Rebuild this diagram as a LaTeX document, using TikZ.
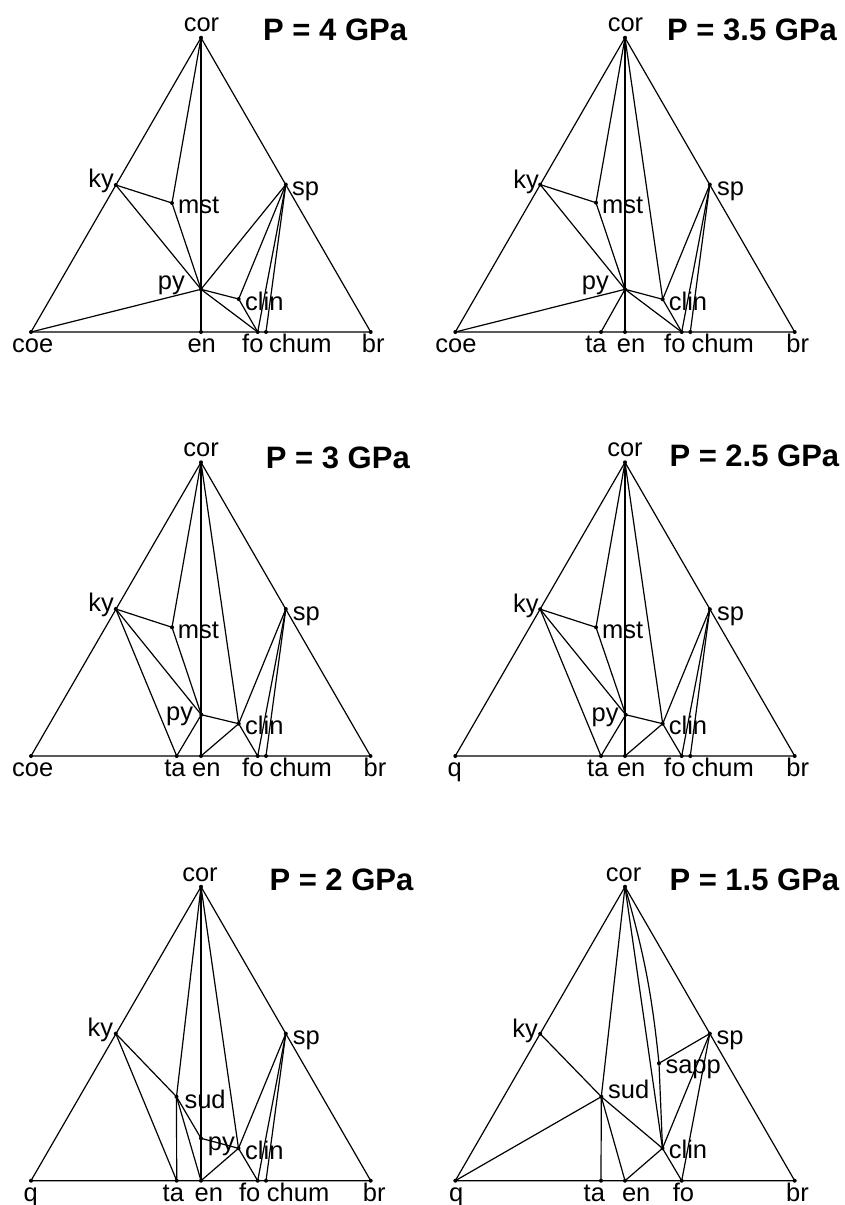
\documentclass[tikz,border=0pt]{standalone}
\usepackage{fontspec}
\setmainfont{Liberation Sans}
\begin{document}
\begin{tikzpicture}[x=1pt,y=-1pt,
  lab/.style={font=\fontsize{25.5}{30}\selectfont, inner sep=0pt},
  ttl/.style={font=\fontsize{31}{36}\selectfont\bfseries, inner sep=0pt, anchor=base west},
  ln/.style={line width=1.2pt, line join=round, line cap=round},
  pt/.style={fill=black}]
\useasboundingbox (0,0) rectangle (845,1205);
\fill[white] (0,0) rectangle (845,1205);
% ================= Panel A : P = 4 GPa
\coordinate (Acor) at (201,37.7);
\coordinate (Acoe) at (31,332);
\coordinate (Abr) at (370.7,332);
\coordinate (Aen) at (201,332);
\coordinate (Afo) at (257.7,332);
\coordinate (Achum) at (266,332);
\coordinate (Aky) at (115.8,185);
\coordinate (Amst) at (172,203);
\coordinate (Asp) at (285.8,184.6);
\coordinate (Apy) at (201,289.3);
\coordinate (Aclin) at (238.7,299);
\draw[ln] (Acoe) -- (Acor) -- (Abr) -- cycle;
\draw[ln] (Acor) -- (Aen);
\draw[ln] (Acor) -- (Amst);
\draw[ln] (Aky) -- (Amst);
\draw[ln] (Amst) -- (Apy);
\draw[ln] (Aky) -- (Apy);
\draw[ln] (Acoe) -- (Apy);
\draw[ln] (Apy) -- (Asp);
\draw[ln] (Apy) -- (Aclin);
\draw[ln] (Apy) -- (Afo);
\draw[ln] (Aclin) -- (Afo);
\draw[ln] (Aclin) -- (Asp);
\draw[ln] (Asp) -- (Afo);
\draw[ln] (Asp) -- (Achum);
\foreach \p in {cor,coe,br,en,fo,chum,ky,mst,sp,py,clin} \fill[pt] (A\p) circle (2);
\node[lab,anchor=base] (Acor-l) at (201.5,31.7) {cor};
\node[lab,anchor=base east] (Aky-l) at (114,187) {ky};
\node[lab,anchor=base west] (Amst-l) at (178,213) {mst};
\node[lab,anchor=base west] (Asp-l) at (292,195.5) {sp};
\node[lab,anchor=base east] (Apy-l) at (185,289) {py};
\node[lab,anchor=base west] (Aclin-l) at (245,310) {clin};
\node[lab,anchor=base] (Acoe-l) at (32.7,352) {coe};
\node[lab,anchor=base] (Aen-l) at (201.7,352) {en};
\node[lab,anchor=base] (Afo-l) at (252.8,352) {fo};
\node[lab,anchor=base west] (Achum-l) at (269,352) {chum};
\node[lab,anchor=base] (Abr-l) at (373.3,352) {br};
\node[ttl] (At) at (263,40.7) {P = 4 GPa};
% ================= Panel B : P = 3.5 GPa
\coordinate (Bcor) at (625,37.7);
\coordinate (Bcoe) at (455.3,332);
\coordinate (Bbr) at (794.7,332);
\coordinate (Bta) at (601,332);
\coordinate (Ben) at (625,332);
\coordinate (Bfo) at (681.7,332);
\coordinate (Bchum) at (690.3,332);
\coordinate (Bky) at (540.2,184.6);
\coordinate (Bmst) at (596,202.7);
\coordinate (Bsp) at (709.8,184.6);
\coordinate (Bpy) at (625,289.3);
\coordinate (Bclin) at (662.7,299.3);
\draw[ln] (Bcoe) -- (Bcor) -- (Bbr) -- cycle;
\draw[ln] (Bcor) -- (Ben);
\draw[ln] (Bcor) -- (Bmst);
\draw[ln] (Bky) -- (Bmst);
\draw[ln] (Bmst) -- (Bpy);
\draw[ln] (Bky) -- (Bpy);
\draw[ln] (Bcoe) -- (Bpy);
\draw[ln] (Bpy) -- (Bta);
\draw[ln] (Bpy) -- (Bclin);
\draw[ln] (Bpy) -- (Bfo);
\draw[ln] (Bcor) -- (Bclin);
\draw[ln] (Bclin) -- (Bfo);
\draw[ln] (Bsp) -- (Bclin);
\draw[ln] (Bsp) -- (Bfo);
\draw[ln] (Bsp) -- (Bchum);
\foreach \p in {cor,coe,br,ta,en,fo,chum,ky,mst,sp,py,clin} \fill[pt] (B\p) circle (2);
\node[lab,anchor=base] (Bcor-l) at (625.5,31.7) {cor};
\node[lab,anchor=base east] (Bky-l) at (539,188) {ky};
\node[lab,anchor=base west] (Bmst-l) at (602,213) {mst};
\node[lab,anchor=base west] (Bsp-l) at (717,195.5) {sp};
\node[lab,anchor=base east] (Bpy-l) at (609,289) {py};
\node[lab,anchor=base west] (Bclin-l) at (668.7,310) {clin};
\node[lab,anchor=base] (Bcoe-l) at (456,352) {coe};
\node[lab,anchor=base] (Bta-l) at (596,352) {ta};
\node[lab,anchor=base] (Ben-l) at (631,352) {en};
\node[lab,anchor=base] (Bfo-l) at (674.8,352) {fo};
\node[lab,anchor=base west] (Bchum-l) at (691.3,352) {chum};
\node[lab,anchor=base] (Bbr-l) at (797.8,352) {br};
\node[ttl] (Bt) at (667,40.7) {P = 3.5 GPa};
% ================= Panel C : P = 3 GPa
\coordinate (Ccor) at (201,462.3);
\coordinate (Ccoe) at (31,756);
\coordinate (Cbr) at (370.5,756);
\coordinate (Cta) at (176.7,756);
\coordinate (Cen) at (201,756);
\coordinate (Cfo) at (257.7,756);
\coordinate (Cchum) at (266,756);
\coordinate (Cky) at (115.8,609);
\coordinate (Cmst) at (172,627.3);
\coordinate (Csp) at (285.8,609);
\coordinate (Cpy) at (201.3,714.7);
\coordinate (Cclin) at (238.7,723.7);
\draw[ln] (Ccoe) -- (Ccor) -- (Cbr) -- cycle;
\draw[ln] (Ccor) -- (Cen);
\draw[ln] (Ccor) -- (Cmst);
\draw[ln] (Cky) -- (Cmst);
\draw[ln] (Cmst) -- (Cpy);
\draw[ln] (Cky) -- (Cpy);
\draw[ln] (Cky) -- (Cta);
\draw[ln] (Cta) -- (Cpy);
\draw[ln] (Cpy) -- (Cclin);
\draw[ln] (Ccor) -- (Cclin);
\draw[ln] (Cen) -- (Cclin);
\draw[ln] (Cclin) -- (Cfo);
\draw[ln] (Csp) -- (Cclin);
\draw[ln] (Csp) -- (Cfo);
\draw[ln] (Csp) -- (Cchum);
\foreach \p in {cor,coe,br,ta,en,fo,chum,ky,mst,sp,py,clin} \fill[pt] (C\p) circle (2);
\node[lab,anchor=base] (Ccor-l) at (201.2,456) {cor};
\node[lab,anchor=base east] (Cky-l) at (114,611.5) {ky};
\node[lab,anchor=base west] (Cmst-l) at (177.7,638) {mst};
\node[lab,anchor=base west] (Csp-l) at (292.7,620) {sp};
\node[lab,anchor=base east] (Cpy-l) at (193.3,720) {py};
\node[lab,anchor=base west] (Cclin-l) at (245,734) {clin};
\node[lab,anchor=base] (Ccoe-l) at (32.7,776) {coe};
\node[lab,anchor=base] (Cta-l) at (175,776) {ta};
\node[lab,anchor=base] (Cen-l) at (206.3,776) {en};
\node[lab,anchor=base] (Cfo-l) at (252.8,776) {fo};
\node[lab,anchor=base west] (Cchum-l) at (269.3,776) {chum};
\node[lab,anchor=base] (Cbr-l) at (375,776) {br};
\node[ttl] (Ct) at (265.7,468.3) {P = 3 GPa};
% ================= Panel D : P = 2.5 GPa
\coordinate (Dcor) at (625,462.3);
\coordinate (Dq) at (455.3,756);
\coordinate (Dbr) at (794.7,756);
\coordinate (Dta) at (601,756);
\coordinate (Den) at (625,756);
\coordinate (Dfo) at (681.7,756);
\coordinate (Dchum) at (690.3,756);
\coordinate (Dky) at (540.2,609.2);
\coordinate (Dmst) at (596,627.3);
\coordinate (Dsp) at (709.8,609.2);
\coordinate (Dpy) at (625.7,714.7);
\coordinate (Dclin) at (662.7,723.7);
\draw[ln] (Dq) -- (Dcor) -- (Dbr) -- cycle;
\draw[ln] (Dcor) -- (Den);
\draw[ln] (Dcor) -- (Dmst);
\draw[ln] (Dky) -- (Dmst);
\draw[ln] (Dmst) -- (Dpy);
\draw[ln] (Dky) -- (Dpy);
\draw[ln] (Dky) -- (Dta);
\draw[ln] (Dta) -- (Dpy);
\draw[ln] (Dpy) -- (Dclin);
\draw[ln] (Dcor) -- (Dclin);
\draw[ln] (Den) -- (Dclin);
\draw[ln] (Dclin) -- (Dfo);
\draw[ln] (Dsp) -- (Dclin);
\draw[ln] (Dsp) -- (Dfo);
\draw[ln] (Dsp) -- (Dchum);
\foreach \p in {cor,q,br,ta,en,fo,chum,ky,mst,sp,py,clin} \fill[pt] (D\p) circle (2);
\node[lab,anchor=base] (Dcor-l) at (625,456) {cor};
\node[lab,anchor=base east] (Dky-l) at (538.7,612) {ky};
\node[lab,anchor=base west] (Dmst-l) at (602,638) {mst};
\node[lab,anchor=base west] (Dsp-l) at (717,620) {sp};
\node[lab,anchor=base east] (Dpy-l) at (618.7,721) {py};
\node[lab,anchor=base west] (Dclin-l) at (668.7,734) {clin};
\node[lab,anchor=base] (Dq-l) at (454.8,776) {q};
\node[lab,anchor=base] (Dta-l) at (597.8,776) {ta};
\node[lab,anchor=base] (Den-l) at (631.2,776) {en};
\node[lab,anchor=base] (Dfo-l) at (674.8,776) {fo};
\node[lab,anchor=base west] (Dchum-l) at (691.3,776) {chum};
\node[lab,anchor=base] (Dbr-l) at (797.8,776) {br};
\node[ttl] (Dt) at (669.3,466.7) {P = 2.5 GPa};
% ================= Panel E : P = 2 GPa
\coordinate (Ecor) at (201,886.7);
\coordinate (Eq) at (31,1180.7);
\coordinate (Ebr) at (370.7,1180.7);
\coordinate (Eta) at (176.7,1180.7);
\coordinate (Een) at (201,1180.7);
\coordinate (Efo) at (257.7,1180.7);
\coordinate (Echum) at (266,1180.7);
\coordinate (Eky) at (115.8,1033.6);
\coordinate (Esp) at (285.8,1033.6);
\coordinate (Esud) at (176.5,1096.7);
\coordinate (Epy) at (201,1138.3);
\coordinate (Eclin) at (238.5,1148.3);
\draw[ln] (Eq) -- (Ecor) -- (Ebr) -- cycle;
\draw[ln] (Ecor) -- (Een);
\draw[ln] (Ecor) -- (Esud);
\draw[ln] (Esud) -- (Eta);
\draw[ln] (Ecor) -- (Eclin);
\draw[ln] (Eky) -- (Esud);
\draw[ln] (Eky) -- (Eta);
\draw[ln] (Esud) -- (Epy);
\draw[ln] (Esud) -- (Een);
\draw[ln] (Epy) -- (Eclin);
\draw[ln] (Een) -- (Eclin);
\draw[ln] (Eclin) -- (Efo);
\draw[ln] (Esp) -- (Eclin);
\draw[ln] (Esp) -- (Efo);
\draw[ln] (Esp) -- (Echum);
\foreach \p in {cor,q,br,ta,en,fo,chum,ky,sp,sud,py,clin} \fill[pt] (E\p) circle (2);
\node[lab,anchor=base] (Ecor-l) at (200,881.7) {cor};
\node[lab,anchor=base east] (Eky-l) at (113.3,1036.5) {ky};
\node[lab,anchor=base west] (Esp-l) at (292.7,1044) {sp};
\node[lab,anchor=base west] (Esud-l) at (184.3,1108) {sud};
\node[lab,anchor=base west] (Epy-l) at (207.7,1150) {py};
\node[lab,anchor=base west] (Eclin-l) at (245,1159) {clin};
\node[lab,anchor=base] (Eq-l) at (30.8,1201.5) {q};
\node[lab,anchor=base] (Eta-l) at (173.3,1201.5) {ta};
\node[lab,anchor=base] (Een-l) at (208.8,1201.5) {en};
\node[lab,anchor=base] (Efo-l) at (249.7,1201.5) {fo};
\node[lab,anchor=base west] (Echum-l) at (266.7,1201.5) {chum};
\node[lab,anchor=base] (Ebr-l) at (374.2,1201.5) {br};
\node[ttl] (Et) at (269.3,890.5) {P = 2 GPa};
% ================= Panel F : P = 1.5 GPa
\coordinate (Fcor) at (625,886.7);
\coordinate (Fq) at (455.3,1180.7);
\coordinate (Fbr) at (794.7,1180.7);
\coordinate (Fta) at (601,1180.7);
\coordinate (Fen) at (625,1180.7);
\coordinate (Ffo) at (681.7,1180.7);
\coordinate (Fky) at (540.2,1033.8);
\coordinate (Fsp) at (709.8,1033.6);
\coordinate (Fsapp) at (659,1063.3);
\coordinate (Fsud) at (601.3,1096.7);
\coordinate (Fclin) at (662.5,1148.3);
\draw[ln] (Fq) -- (Fcor) -- (Fbr) -- cycle;
\draw[ln] (Fcor) -- (Fsud);
\draw[ln] (Fsud) -- (Fta);
\draw[ln] (Fq) -- (Fsud);
\draw[ln] (Fky) -- (Fsud);
\draw[ln] (Fsud) -- (Fclin);
\draw[ln] (Fsud) -- (Fen);
\draw[ln] (Fen) -- (Fclin);
\draw[ln] (Fclin) -- (Ffo);
\draw[ln] (Fcor) to[bend left=5] (Fsapp);
\draw[ln] (Fcor) -- (Fclin);
\draw[ln] (Fsapp) -- (Fclin);
\draw[ln] (Fsapp) -- (Fsp);
\draw[ln] (Fsp) -- (Fclin);
\draw[ln] (Fsp) -- (Ffo);
\foreach \p in {cor,q,br,ta,en,fo,ky,sp,sapp,sud,clin} \fill[pt] (F\p) circle (2);
\node[lab,anchor=base] (Fcor-l) at (623.7,881.7) {cor};
\node[lab,anchor=base east] (Fky-l) at (538,1037) {ky};
\node[lab,anchor=base west] (Fsp-l) at (716.3,1044) {sp};
\node[lab,anchor=base west] (Fsapp-l) at (665.3,1073.3) {sapp};
\node[lab,anchor=base west] (Fsud-l) at (608,1098.3) {sud};
\node[lab,anchor=base west] (Fclin-l) at (668.7,1158.3) {clin};
\node[lab,anchor=base] (Fq-l) at (456.2,1201.5) {q};
\node[lab,anchor=base] (Fta-l) at (594.3,1201.5) {ta};
\node[lab,anchor=base] (Fen-l) at (636.2,1201.5) {en};
\node[lab,anchor=base] (Ffo-l) at (683.5,1201.5) {fo};
\node[lab,anchor=base] (Fbr-l) at (797.5,1201.5) {br};
\node[ttl] (Ft) at (669.3,890.5) {P = 1.5 GPa};
\end{tikzpicture}
\end{document}
